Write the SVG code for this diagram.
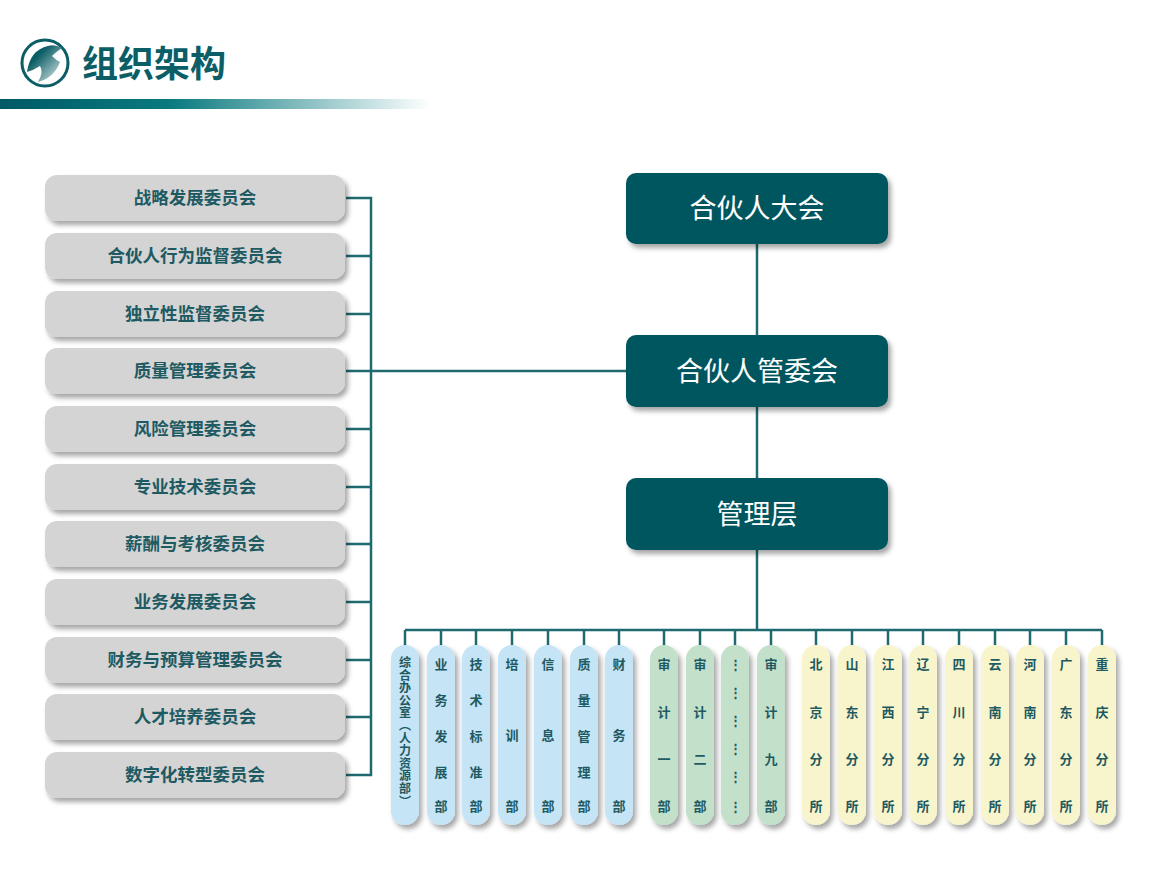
<svg xmlns="http://www.w3.org/2000/svg" width="1150" height="890" viewBox="0 0 1150 890">
<defs>
<linearGradient id="bar" x1="0" x2="1"><stop offset="0" stop-color="#005a66"/><stop offset="0.4" stop-color="#0a7a80"/><stop offset="1" stop-color="#ffffff"/></linearGradient>
<linearGradient id="logo" x1="0" y1="0" x2="1" y2="1"><stop offset="0.3" stop-color="#0b5e66"/><stop offset="1" stop-color="#e8f0f0"/></linearGradient>
<filter id="sh" x="-20%" y="-20%" width="150%" height="150%"><feDropShadow dx="3" dy="4" stdDeviation="2.5" flood-color="#000" flood-opacity="0.35"/></filter>
</defs>
<style>
.l{fill:#d4d4d4;filter:url(#sh)}
.lt{font-family:"Noto Sans CJK SC",sans-serif;font-size:17.5px;font-weight:bold;fill:#1e5a62;text-anchor:middle}
.r{fill:#00565f;filter:url(#sh)}
.rt{font-family:"Noto Sans CJK SC",sans-serif;font-size:27px;fill:#fff;text-anchor:middle}
.b{fill:#c5e4f5;filter:url(#sh)}.g{fill:#c3e0cb;filter:url(#sh)}.y{fill:#f8f5cc;filter:url(#sh)}
.ct{font-family:"Noto Sans CJK SC",sans-serif;font-size:13px;font-weight:bold;fill:#1e5a62;text-anchor:middle}
.c line,.c path{stroke:#1e6a70;stroke-width:2.5;fill:none}
</style>
<g id="header">
<circle cx="45" cy="63" r="23" fill="none" stroke="#0b5e66" stroke-width="3"/>
<path d="M27 72 Q30 50 48 46 Q55 44 62 48 Q56 52 52 56 Q56 60 60 62 Q54 78 38 82 Q44 72 40 66 Q34 70 27 72Z" fill="url(#logo)"/>
<text x="82" y="77" font-family="Noto Sans CJK SC,sans-serif" font-size="36" font-weight="bold" fill="#0b5e66">组织架构</text>
<rect x="0" y="99" width="430" height="10" fill="url(#bar)"/>
</g>
<g class="c" id="connectors">
<path d="M346 198H371V775H346"/>
<path d="M346 256H371M346 314H371M346 429H371M346 487H371M346 544H371M346 602H371M346 660H371M346 717H371"/>
<path d="M346 371H626"/>
<path d="M757 244V335M757 407V478M757 550V630"/>
<path d="M405 630H1102M405 630V646M441 630V646M476 630V646M512 630V646M548 630V646M584 630V646M619 630V646M664 630V646M700 630V646M735 630V646M771 630V646M816 630V646M852 630V646M888 630V646M923 630V646M959 630V646M995 630V646M1030 630V646M1066 630V646M1102 630V646"/>
</g>
<g id="n1"><rect class="l" x="45" y="175" width="300" height="46" rx="12"/><text class="lt" x="195" y="204">战略发展委员会</text></g>
<g id="n2"><rect class="l" x="45" y="233" width="300" height="46" rx="12"/><text class="lt" x="195" y="262">合伙人行为监督委员会</text></g>
<g id="n3"><rect class="l" x="45" y="291" width="300" height="46" rx="12"/><text class="lt" x="195" y="320">独立性监督委员会</text></g>
<g id="n4"><rect class="l" x="45" y="348" width="300" height="46" rx="12"/><text class="lt" x="195" y="377">质量管理委员会</text></g>
<g id="n5"><rect class="l" x="45" y="406" width="300" height="46" rx="12"/><text class="lt" x="195" y="435">风险管理委员会</text></g>
<g id="n6"><rect class="l" x="45" y="464" width="300" height="46" rx="12"/><text class="lt" x="195" y="493">专业技术委员会</text></g>
<g id="n7"><rect class="l" x="45" y="521" width="300" height="46" rx="12"/><text class="lt" x="195" y="550">薪酬与考核委员会</text></g>
<g id="n8"><rect class="l" x="45" y="579" width="300" height="46" rx="12"/><text class="lt" x="195" y="608">业务发展委员会</text></g>
<g id="n9"><rect class="l" x="45" y="637" width="300" height="46" rx="12"/><text class="lt" x="195" y="666">财务与预算管理委员会</text></g>
<g id="n10"><rect class="l" x="45" y="694" width="300" height="46" rx="12"/><text class="lt" x="195" y="723">人才培养委员会</text></g>
<g id="n11"><rect class="l" x="45" y="752" width="300" height="46" rx="12"/><text class="lt" x="195" y="781">数字化转型委员会</text></g>
<g id="r1"><rect class="r" x="626" y="173" width="262" height="71" rx="10"/><text class="rt" x="757" y="218">合伙人大会</text></g>
<g id="r2"><rect class="r" x="626" y="335" width="262" height="72" rx="10"/><text class="rt" x="757" y="381">合伙人管委会</text></g>
<g id="r3"><rect class="r" x="626" y="478" width="262" height="72" rx="10"/><text class="rt" x="757" y="524">管理层</text></g>
<g id="d1"><rect class="b" x="391" y="645" width="28" height="180" rx="14"/><text class="ct" style="font-size:12px"><tspan x="405" y="667">综</tspan><tspan x="405" y="679.6">合</tspan><tspan x="405" y="692.2">办</tspan><tspan x="405" y="704.8">公</tspan><tspan x="405" y="717.4">室</tspan><tspan x="405" y="730">︵</tspan><tspan x="405" y="742.6">人</tspan><tspan x="405" y="755.2">力</tspan><tspan x="405" y="767.8">资</tspan><tspan x="405" y="780.4">源</tspan><tspan x="405" y="793">部</tspan><tspan x="405" y="805.6">︶</tspan></text></g>
<g id="d2"><rect class="b" x="427" y="645" width="28" height="180" rx="14"/><text class="ct"><tspan x="441" y="669">业</tspan><tspan x="441" y="705">务</tspan><tspan x="441" y="741">发</tspan><tspan x="441" y="777">展</tspan><tspan x="441" y="811">部</tspan></text></g>
<g id="d3"><rect class="b" x="462" y="645" width="28" height="180" rx="14"/><text class="ct"><tspan x="476" y="669">技</tspan><tspan x="476" y="705">术</tspan><tspan x="476" y="741">标</tspan><tspan x="476" y="777">准</tspan><tspan x="476" y="811">部</tspan></text></g>
<g id="d4"><rect class="b" x="498" y="645" width="28" height="180" rx="14"/><text class="ct"><tspan x="512" y="669">培</tspan><tspan x="512" y="740">训</tspan><tspan x="512" y="811">部</tspan></text></g>
<g id="d5"><rect class="b" x="534" y="645" width="28" height="180" rx="14"/><text class="ct"><tspan x="548" y="669">信</tspan><tspan x="548" y="740">息</tspan><tspan x="548" y="811">部</tspan></text></g>
<g id="d6"><rect class="b" x="570" y="645" width="28" height="180" rx="14"/><text class="ct"><tspan x="584" y="669">质</tspan><tspan x="584" y="705">量</tspan><tspan x="584" y="741">管</tspan><tspan x="584" y="777">理</tspan><tspan x="584" y="811">部</tspan></text></g>
<g id="d7"><rect class="b" x="605" y="645" width="28" height="180" rx="14"/><text class="ct"><tspan x="619" y="669">财</tspan><tspan x="619" y="740">务</tspan><tspan x="619" y="811">部</tspan></text></g>
<g id="a1"><rect class="g" x="650" y="645" width="28" height="180" rx="14"/><text class="ct"><tspan x="664" y="669">审</tspan><tspan x="664" y="717">计</tspan><tspan x="664" y="764">一</tspan><tspan x="664" y="811">部</tspan></text></g>
<g id="a2"><rect class="g" x="686" y="645" width="28" height="180" rx="14"/><text class="ct"><tspan x="700" y="669">审</tspan><tspan x="700" y="717">计</tspan><tspan x="700" y="764">二</tspan><tspan x="700" y="811">部</tspan></text></g>
<g id="a3"><rect class="g" x="721" y="645" width="28" height="180" rx="14"/><text class="ct"><tspan x="735" y="669">⋮</tspan><tspan x="735" y="697">⋮</tspan><tspan x="735" y="725">⋮</tspan><tspan x="735" y="753">⋮</tspan><tspan x="735" y="781">⋮</tspan><tspan x="735" y="811">⋮</tspan></text></g>
<g id="a4"><rect class="g" x="757" y="645" width="28" height="180" rx="14"/><text class="ct"><tspan x="771" y="669">审</tspan><tspan x="771" y="717">计</tspan><tspan x="771" y="764">九</tspan><tspan x="771" y="811">部</tspan></text></g>
<g id="b1"><rect class="y" x="802" y="645" width="28" height="180" rx="14"/><text class="ct"><tspan x="816" y="669">北</tspan><tspan x="816" y="717">京</tspan><tspan x="816" y="764">分</tspan><tspan x="816" y="811">所</tspan></text></g>
<g id="b2"><rect class="y" x="838" y="645" width="28" height="180" rx="14"/><text class="ct"><tspan x="852" y="669">山</tspan><tspan x="852" y="717">东</tspan><tspan x="852" y="764">分</tspan><tspan x="852" y="811">所</tspan></text></g>
<g id="b3"><rect class="y" x="874" y="645" width="28" height="180" rx="14"/><text class="ct"><tspan x="888" y="669">江</tspan><tspan x="888" y="717">西</tspan><tspan x="888" y="764">分</tspan><tspan x="888" y="811">所</tspan></text></g>
<g id="b4"><rect class="y" x="909" y="645" width="28" height="180" rx="14"/><text class="ct"><tspan x="923" y="669">辽</tspan><tspan x="923" y="717">宁</tspan><tspan x="923" y="764">分</tspan><tspan x="923" y="811">所</tspan></text></g>
<g id="b5"><rect class="y" x="945" y="645" width="28" height="180" rx="14"/><text class="ct"><tspan x="959" y="669">四</tspan><tspan x="959" y="717">川</tspan><tspan x="959" y="764">分</tspan><tspan x="959" y="811">所</tspan></text></g>
<g id="b6"><rect class="y" x="981" y="645" width="28" height="180" rx="14"/><text class="ct"><tspan x="995" y="669">云</tspan><tspan x="995" y="717">南</tspan><tspan x="995" y="764">分</tspan><tspan x="995" y="811">所</tspan></text></g>
<g id="b7"><rect class="y" x="1016" y="645" width="28" height="180" rx="14"/><text class="ct"><tspan x="1030" y="669">河</tspan><tspan x="1030" y="717">南</tspan><tspan x="1030" y="764">分</tspan><tspan x="1030" y="811">所</tspan></text></g>
<g id="b8"><rect class="y" x="1052" y="645" width="28" height="180" rx="14"/><text class="ct"><tspan x="1066" y="669">广</tspan><tspan x="1066" y="717">东</tspan><tspan x="1066" y="764">分</tspan><tspan x="1066" y="811">所</tspan></text></g>
<g id="b9"><rect class="y" x="1088" y="645" width="28" height="180" rx="14"/><text class="ct"><tspan x="1102" y="669">重</tspan><tspan x="1102" y="717">庆</tspan><tspan x="1102" y="764">分</tspan><tspan x="1102" y="811">所</tspan></text></g>
</svg>
